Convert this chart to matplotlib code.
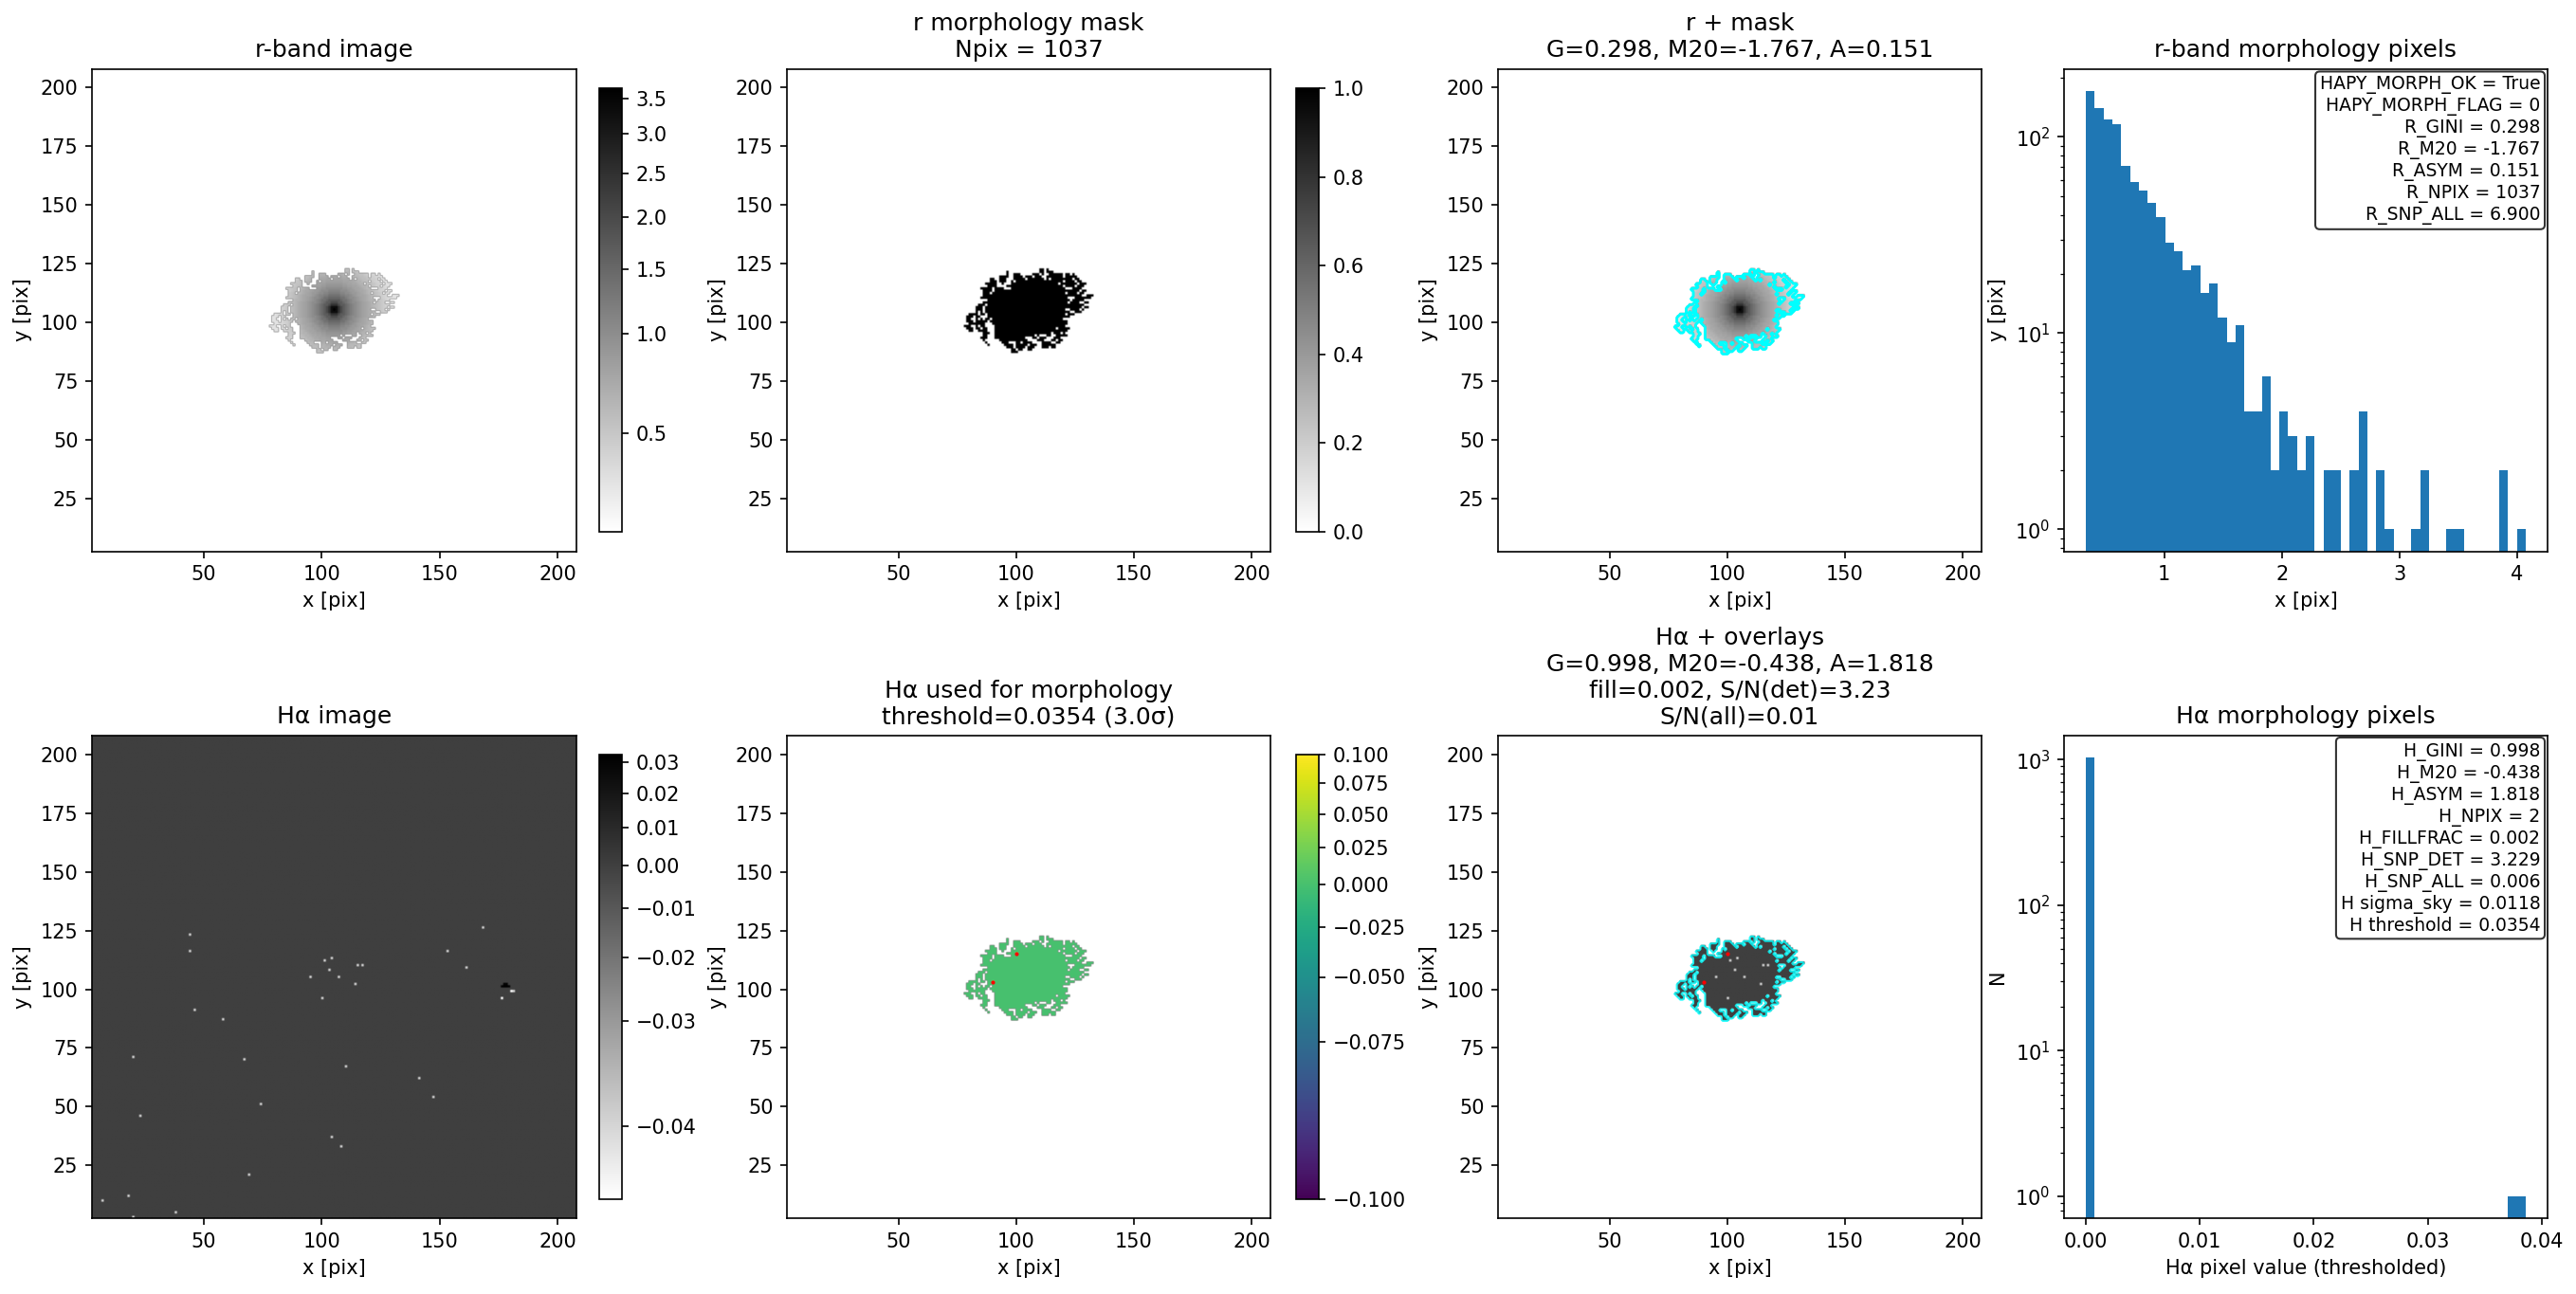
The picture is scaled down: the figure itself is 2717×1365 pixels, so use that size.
import numpy as np
import matplotlib
matplotlib.use("Agg")
import matplotlib.pyplot as plt
from matplotlib.colors import PowerNorm

W, H, DPI = 2717, 1365, 150
NPIX = 205
IM_MIN, IM_MAX = 2.5, 208.0

# --- histogram counts ---
R_HIST_LO, R_HIST_HI = 0.336, 4.072
R_HIST_COUNTS = [172, 140, 123, 116, 71, 59, 53, 46, 39, 29,
                 26, 21, 22, 16, 18, 12, 9, 11, 4, 4,
                 6, 2, 4, 3, 2, 3, 0, 2, 2, 0,
                 2, 4, 0, 2, 1, 0, 0, 1, 2, 0,
                 0, 1, 1, 0, 0, 0, 0, 2, 0, 1]
H_HIST_LO, H_HIST_HI = 0.0, 0.0386
H_HIST_COUNTS = [1035] + [0] * 47 + [1, 1]

# --- colour scale limits ---
R_VMIN, R_VMAX = 0.336, 3.65
HA_VMIN, HA_VMAX = -0.042, 0.0325
TH_VMIN, TH_VMAX = -0.1, 0.1

# --- morphology mask, transcribed by eye: per row from y=122.5 downward, (first, last) column; column 0 is x=78 ---
MASK_FIRST_X, MASK_TOP_Y = 78, 122
MASK_RUNS = [
    [(32, 33), (35, 35)],
    [(18, 18), (32, 33), (35, 37)],
    [(18, 18), (21, 23), (29, 31), (33, 33), (36, 41), (43, 44), (46, 46)],
    [(15, 18), (21, 24), (26, 28), (30, 32), (35, 36), (37, 41), (43, 45), (46, 47)],
    [(11, 12), (15, 17), (21, 33), (35, 35), (37, 40), (41, 45), (47, 48)],
    [(11, 13), (15, 17), (20, 38), (39, 41), (43, 46), (48, 49)],
    [(9, 13), (16, 16), (20, 39), (41, 43), (44, 47), (49, 51)],
    [(10, 13), (18, 41), (43, 46), (48, 50)],
    [(7, 11), (13, 17), (20, 42), (46, 49)],
    [(8, 11), (13, 43), (44, 48), (50, 51)],
    [(8, 10), (12, 42), (44, 47), (49, 50)],
    [(8, 9), (10, 43), (44, 49), (52, 54)],
    [(7, 9), (10, 43), (47, 51), (52, 53)],
    [(10, 44), (46, 50)],
    [(8, 43), (45, 48), (51, 52)],
    [(6, 9), (10, 43), (44, 50)],
    [(5, 7), (9, 43), (44, 49), (51, 52)],
    [(5, 7), (9, 42), (44, 48), (50, 50)],
    [(5, 5), (7, 7), (9, 44), (47, 49)],
    [(2, 5), (7, 8), (10, 42), (44, 46)],
    [(1, 3), (5, 6), (10, 44)],
    [(1, 2), (5, 5), (7, 7), (9, 41)],
    [(1, 3), (5, 9), (11, 43)],
    [(2, 8), (12, 41), (42, 43)],
    [(0, 2), (5, 5), (7, 8), (13, 40), (41, 42)],
    [(1, 3), (5, 6), (8, 9), (13, 38), (40, 44)],
    [(2, 3), (6, 9), (13, 40), (41, 43)],
    [(8, 10), (13, 36), (38, 40), (42, 42)],
    [(8, 9), (13, 26), (27, 29), (31, 31), (35, 36), (39, 41), (42, 43)],
    [(7, 9), (13, 25), (29, 30), (32, 34), (38, 40)],
    [(8, 8), (15, 17), (18, 26), (31, 33), (37, 38), (40, 41)],
    [(9, 9), (16, 18), (22, 23), (25, 28), (33, 36), (39, 40)],
    [(10, 10), (17, 20), (22, 26), (28, 30), (33, 35), (36, 38)],
    [(18, 20), (22, 25), (27, 29), (33, 35), (37, 38)],
    [(20, 21), (23, 24), (27, 28)],
    [(20, 22)],
]
# single empty cells seen inside the mask (column, row)
MASK_HOLE_COL = [12, 9, 8, 9, 11, 44, 44, 21, 26, 17, 18]
MASK_HOLE_ROW = [9, 15, 16, 20, 21, 14, 17, 5, 4, 8, 8]

# --- r-band light: estimated level at each whole-pixel distance from the centre ---
R_CENTER = (105, 105)
R_RADIAL_LEVEL = [4.0, 3.3, 2.5, 2.0, 1.7, 1.5, 1.35, 1.2, 1.1, 1.0,
                  0.92, 0.86, 0.8, 0.76, 0.72, 0.68, 0.63, 0.59, 0.55, 0.52,
                  0.49, 0.46, 0.44, 0.42, 0.40, 0.38]

# --- H-alpha: sky level, plus the individual pixels legible in the picture.
#     The pixel-scale noise itself cannot be read off and is not reproduced. ---
HA_SKY = 0.0
HA_BRIGHT_X = [110, 67, 147, 44, 44, 46, 58, 117, 107, 104, 153, 161, 168, 141, 20, 23, 74, 69,
               104, 108, 18, 38, 7, 20, 100, 101, 115, 114, 103, 95]
HA_BRIGHT_Y = [67, 70, 54, 123, 116, 91, 87, 110, 105, 113, 116, 109, 126, 62, 71, 46, 51, 21,
               37, 33, 12, 5, 10, 3, 96, 112, 110, 102, 108, 105]
HA_BRIGHT_LEVEL = -0.04
DIPOLE_X = [176, 177, 178, 179, 177, 178, 176, 180, 181]
DIPOLE_Y = [101, 101, 101, 101, 102, 102, 96, 99, 99]
DIPOLE_V = [0.03, 0.035, 0.035, 0.03, 0.03, 0.03, -0.042, -0.042, -0.04]

# --- pixels above the H-alpha threshold ---
DET_X = [100, 90]
DET_Y = [115, 103]
DET_V = [0.0387, 0.0382]

# --- texts ---
R_BOX = ["HAPY_MORPH_OK = True", "HAPY_MORPH_FLAG = 0", "R_GINI = 0.298", "R_M20 = -1.767",
         "R_ASYM = 0.151", "R_NPIX = 1037", "R_SNP_ALL = 6.900"]
H_BOX = ["H_GINI = 0.998", "H_M20 = -0.438", "H_ASYM = 1.818", "H_NPIX = 2", "H_FILLFRAC = 0.002",
         "H_SNP_DET = 3.229", "H_SNP_ALL = 0.006", "H sigma_sky = 0.0118", "H threshold = 0.0354"]

# ---------- build images ----------
coords = np.arange(NPIX) + 3
mask = np.zeros((NPIX, NPIX), bool)
for i, runs in enumerate(MASK_RUNS):
    for a, b in runs:
        mask[MASK_TOP_Y - i - 3, a + MASK_FIRST_X - 3: b + MASK_FIRST_X - 2] = True
mask[MASK_TOP_Y - np.array(MASK_HOLE_ROW) - 3, np.array(MASK_HOLE_COL) + MASK_FIRST_X - 3] = False

yy, xx = np.meshgrid(coords, coords, indexing="ij")
dist = np.hypot(xx - R_CENTER[0], yy - R_CENTER[1])
r_img = np.full(mask.shape, np.nan)
r_vals = np.array(R_RADIAL_LEVEL)[np.round(dist).astype(int).clip(max=len(R_RADIAL_LEVEL) - 1)]
r_img[mask] = r_vals[mask]

ha_img = np.full(mask.shape, HA_SKY, float)
ha_img[np.array(HA_BRIGHT_Y) - 3, np.array(HA_BRIGHT_X) - 3] = HA_BRIGHT_LEVEL
ha_img[np.array(DIPOLE_Y) - 3, np.array(DIPOLE_X) - 3] = DIPOLE_V
ha_masked = np.where(mask, ha_img, np.nan)
ha_thresh = np.where(mask, 0.0, np.nan)
ha_thresh[np.array(DET_Y) - 3, np.array(DET_X) - 3] = DET_V

# ---------- layout ----------
fig = plt.figure(figsize=(W / DPI, H / DPI), dpi=DPI)
COL_X = [(97, 608), (830, 1340), (1580, 2090), (2177, 2687)]
ROW_Y = [(72.5, 581.5), (776, 1285)]
CB_X = [(632, 656), (1367, 1391)]
CB_Y = [(93, 561), (796, 1265)]


def make_ax(x, y):
    return fig.add_axes([x[0] / W, 1 - y[1] / H, (x[1] - x[0]) / W, (y[1] - y[0]) / H])


def show(ax, data, cmap, norm):
    im = ax.imshow(data, origin="lower", cmap=cmap, norm=norm, extent=(IM_MIN, IM_MAX, IM_MIN, IM_MAX),
                   aspect="auto")
    ax.set_xlim(IM_MIN, IM_MAX)
    ax.set_ylim(IM_MIN, IM_MAX)
    ax.set_xlabel("x [pix]")
    ax.set_ylabel("y [pix]")
    return im


def outline(ax, lw, alpha):
    ax.contour(coords, coords, mask.astype(float), [0.5], colors="cyan", linewidths=lw, alpha=alpha)


def box(ax, lines):
    ax.text(0.985, 0.985, "\n".join(lines), transform=ax.transAxes, ha="right", va="top", fontsize=9,
            bbox=dict(boxstyle="round,pad=0.25", facecolor="white", edgecolor="black", alpha=0.8))


def hist(ax, lo, hi, counts):
    edges = np.linspace(lo, hi, len(counts) + 1)
    ax.hist(0.5 * (edges[:-1] + edges[1:]), bins=edges, weights=counts, log=True, color="C0")


r_norm = PowerNorm(0.5, R_VMIN, R_VMAX)
ha_norm = PowerNorm(0.5, HA_VMIN, HA_VMAX)
th_norm = PowerNorm(0.5, TH_VMIN, TH_VMAX)

# top row
ax = make_ax(COL_X[0], ROW_Y[0])
im = show(ax, r_img, "gray_r", r_norm)
ax.set_title("r-band image")
fig.colorbar(im, cax=make_ax(CB_X[0], CB_Y[0]))

ax = make_ax(COL_X[1], ROW_Y[0])
im = show(ax, np.where(mask, 1.0, np.nan), "gray_r", plt.Normalize(0, 1))
ax.set_title("r morphology mask\nNpix = 1037")
fig.colorbar(im, cax=make_ax(CB_X[1], CB_Y[0]))

ax = make_ax(COL_X[2], ROW_Y[0])
show(ax, r_img, "gray_r", r_norm)
outline(ax, 1.4, 1.0)
ax.set_title("r + mask\nG=0.298, M20=-1.767, A=0.151")

ax = make_ax(COL_X[3], ROW_Y[0])
hist(ax, R_HIST_LO, R_HIST_HI, R_HIST_COUNTS)
ax.set_title("r-band morphology pixels")
ax.set_xlabel("x [pix]")
ax.set_ylabel("y [pix]")
box(ax, R_BOX)

# bottom row
ax = make_ax(COL_X[0], ROW_Y[1])
im = show(ax, ha_img, "gray_r", ha_norm)
ax.set_title("Hα image")
fig.colorbar(im, cax=make_ax(CB_X[0], CB_Y[1]))

ax = make_ax(COL_X[1], ROW_Y[1])
im = show(ax, ha_thresh, "viridis", th_norm)
ax.scatter(DET_X, DET_Y, s=4, c="red", linewidths=0)
ax.set_title("Hα used for morphology\nthreshold=0.0354 (3.0σ)")
fig.colorbar(im, cax=make_ax(CB_X[1], CB_Y[1]))

ax = make_ax(COL_X[2], ROW_Y[1])
show(ax, ha_masked, "gray_r", ha_norm)
outline(ax, 1.0, 0.8)
ax.scatter(DET_X, DET_Y, s=4, c="red", linewidths=0)
ax.set_title("Hα + overlays\nG=0.998, M20=-0.438, A=1.818\nfill=0.002, S/N(det)=3.23\nS/N(all)=0.01")

ax = make_ax(COL_X[3], ROW_Y[1])
hist(ax, H_HIST_LO, H_HIST_HI, H_HIST_COUNTS)
ax.set_title("Hα morphology pixels")
ax.set_xlabel("Hα pixel value (thresholded)")
ax.set_ylabel("N")
box(ax, H_BOX)

fig.savefig("out.png", dpi=DPI, facecolor="white")
